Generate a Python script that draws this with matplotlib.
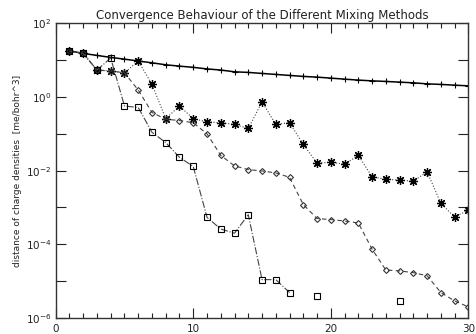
import numpy as np
import matplotlib
matplotlib.use('Agg')
import matplotlib.pyplot as plt
from matplotlib.ticker import FixedLocator, FuncFormatter, MultipleLocator

nan = np.nan

# iteration number
iters = np.arange(1, 31)

# simple mixing (+, solid)
simple = [18.0, 15.3, 13.5, 11.9, 10.7, 9.5, 8.5, 7.5, 6.9, 6.4,
          5.8, 5.4, 4.84, 4.66, 4.37, 4.11, 3.86, 3.63, 3.47, 3.26,
          3.06, 2.88, 2.75, 2.65, 2.54, 2.43, 2.28, 2.20, 2.10, 2.01]

# asterisk series (dotted)
star = [17.5, 15.3, 5.4, 5.1, 4.55, 9.5, 2.2, 0.26, 0.57, 0.26,
        0.21, 0.20, 0.18, 0.14, 0.74, 0.18, 0.20, 0.052, 0.016, 0.017,
        0.015, 0.026, 0.0068, 0.0059, 0.0055, 0.0052, 0.0093, 0.0013, 0.00055, 0.00085]

# diamond series (dashed)
diamond = [17.5, 15.3, 5.4, 5.1, 4.55, 1.55, 0.38, 0.25, 0.23, 0.20,
           0.10, 0.026, 0.0135, 0.0107, 0.0098, 0.0087, 0.0066, 0.0012, 0.0005, 0.00047,
           0.00043, 0.00038, 7.4e-5, 2.0e-5, 1.9e-5, 1.7e-5, 1.4e-5, 4.9e-6, 2.9e-6, 2.0e-6]

# square series (dash-dot), gaps where no value is shown
square = [17.5, 15.3, 5.4, 11.5, 0.57, 0.52, 0.11, 0.058, 0.023, 0.013,
          5.4e-4, 2.6e-4, 2.0e-4, 6.4e-4, 1.1e-5, 1.1e-5, 4.9e-6, nan, 4.0e-6, nan,
          nan, nan, nan, nan, 2.9e-6, nan, nan, nan, nan, nan]

titlefs = 8.5
labelfs = 6.5
tickfs = 7.5

fig = plt.figure(figsize=(4.76, 3.34), dpi=100)
ax = fig.add_axes([0.117, 0.048, 0.867, 0.882])

ax.plot(iters, simple, '-', color='black', linewidth=1.1,
        marker='+', markersize=5, markeredgewidth=0.8)
ax.plot(iters, star, ':', color='#444444', linewidth=0.8,
        marker=(8, 2, 0), markersize=6.5, markeredgewidth=0.9, markeredgecolor='black')
ax.plot(iters, diamond, '--', color='#444444', linewidth=0.8, dashes=(4, 3),
        marker='D', markersize=3, markerfacecolor='none', markeredgewidth=0.8,
        markeredgecolor='#333333')
ax.plot(iters, square, '-.', color='#444444', linewidth=0.8,
        marker='s', markersize=4.8, markerfacecolor='none', markeredgewidth=0.8,
        markeredgecolor='black')

ax.set_yscale('log')
ax.set_xlim(0, 30)
ax.set_ylim(1e-6, 1e2)

ax.yaxis.set_major_locator(FixedLocator([10.0**k for k in range(-6, 3)]))
ax.yaxis.set_minor_locator(FixedLocator([]))

def ylab(v, pos):
    k = int(round(np.log10(v)))
    if k % 2:
        return ''
    return r'$10^{%d}$' % k

ax.yaxis.set_major_formatter(FuncFormatter(ylab))
ax.xaxis.set_major_locator(MultipleLocator(10))
ax.xaxis.set_minor_locator(MultipleLocator(1))

ax.tick_params(which='both', direction='in', top=True, right=True,
               labelsize=tickfs, colors='#222222')
ax.tick_params(which='major', length=7, width=0.8)
ax.tick_params(which='minor', length=3.5, width=0.8)
ax.tick_params(axis='x', pad=4)
ax.tick_params(axis='y', pad=3)
for s in ax.spines.values():
    s.set_linewidth(1.0)
    s.set_color('#333333')

ax.set_title('Convergence Behaviour of the Different Mixing Methods',
             fontsize=titlefs, color='#222222', pad=3)
ax.set_ylabel('distance of charge densities  [me/bohr^3]', fontsize=labelfs,
              color='#222222', labelpad=3)

fig.savefig('out.png', dpi=100)
